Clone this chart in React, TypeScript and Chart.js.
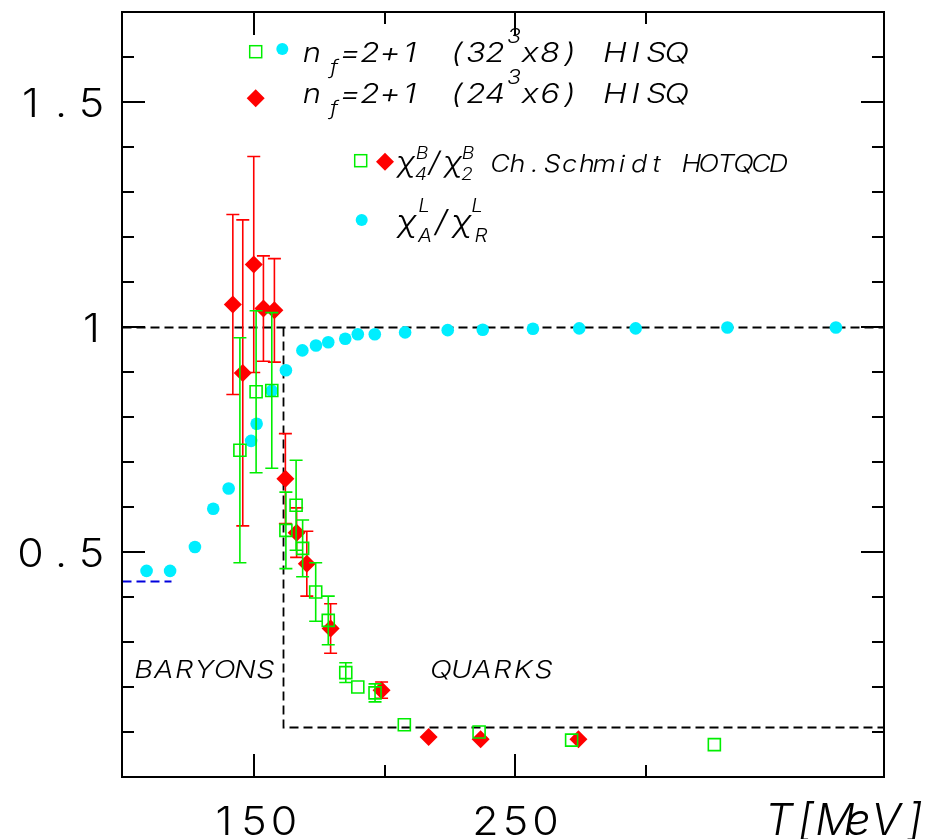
import React, { useEffect, useRef } from "react";
import { Chart, registerables } from "chart.js";

Chart.register(...registerables);

// ---------- data ----------
// chi_A^L / chi_R^L (cyan circles)
const cyanT = [108.9, 117.9, 127.4, 134.4, 140.3, 148.9, 151.0, 156.8, 162.2, 168.5, 173.7, 178.4, 184.9, 189.7, 196.2, 207.8, 224.1, 237.5, 256.7, 274.4, 296.0, 331.1, 372.6];
const cyanV = [0.458, 0.458, 0.511, 0.596, 0.641, 0.747, 0.785, 0.858, 0.904, 0.948, 0.959, 0.966, 0.974, 0.984, 0.984, 0.988, 0.993, 0.994, 0.996, 0.997, 0.997, 0.999, 0.999];

// chi4B/chi2B, nf=2+1 (24^3x6) HISQ (red diamonds)
const redT = [141.9, 145.7, 149.9, 153.6, 157.8, 162.0, 166.3, 170.2, 179.3, 198.8, 216.8, 236.7, 274.1];
const redV = [1.05, 0.898, 1.139, 1.041, 1.037, 0.663, 0.543, 0.474, 0.33, 0.193, 0.089, 0.084, 0.084];
const redErr = [0.2, 0.34, 0.24, 0.117, 0.115, 0.1, 0.055, 0.072, 0.055, 0.018, 0, 0, 0];

// chi4B/chi2B, nf=2+1 (32^3x8) HISQ (green open squares)
const greenT = [144.6, 150.8, 156.8, 162.2, 166.1, 168.6, 173.6, 178.4, 185.1, 189.7, 196.3, 207.5, 236.1, 271.5, 326.1];
const greenV = [0.726, 0.856, 0.859, 0.548, 0.604, 0.508, 0.411, 0.348, 0.232, 0.2, 0.187, 0.116, 0.1, 0.082, 0.072];
const greenErr = [0.25, 0.18, 0.173, 0.085, 0.1, 0.063, 0.065, 0.054, 0.022, 0, 0.02, 0, 0, 0, 0];

// reference lines
const UNITY = 1.0;
const T_C = 161.1;
const QUARK_LEVEL = 0.111;
const BARYON_LEVEL = 0.435;
const BARYON_LEVEL_END = 118.1;

// axes
const X_MIN = 99.5;
const X_MAX = 391;
const Y_MIN = 0;
const Y_MAX = 1.7;
const xTickValues = [150, 200, 250, 300];
const xTickLong = [150, 250];
const xTickLabels = ["150", "", "250", ""];
const yMinorStep = 0.1;
const yLabelValues = [0.5, 1.0, 1.5];
const yLabelTexts = ["0.5", "1", "1.5"];

// ---------- colours / fonts ----------
const CYAN = "#00EEFF";
const RED = "#FF0000";
const GREEN = "#00EE00";
const INK = "#000000";
const BLUE = "#0000DD";
const FACE = "Inter, Roboto, sans-serif";

function glyph(ctx: CanvasRenderingContext2D, ch: string, x: number, y: number, sx: number) {
  ctx.save();
  ctx.translate(x, y);
  ctx.scale(sx, 1);
  ctx.fillText(ch, 0, 0);
  ctx.restore();
}

function cells(ctx: CanvasRenderingContext2D, s: string, x0: number, y: number, pitch: number, font: string, sx = 1.2) {
  ctx.font = font;
  ctx.textAlign = "center";
  ctx.textBaseline = "alphabetic";
  for (let i = 0; i < s.length; i++) {
    if (s[i] !== " ") glyph(ctx, s[i], x0 + i * pitch, y, sx);
  }
}

function txt(ctx: CanvasRenderingContext2D, s: string, x: number, y: number, font: string, sx = 1.15) {
  ctx.font = font;
  ctx.textAlign = "center";
  ctx.textBaseline = "alphabetic";
  glyph(ctx, s, x, y, sx);
}

function square(ctx: CanvasRenderingContext2D, x: number, y: number, side: number) {
  ctx.save();
  ctx.strokeStyle = GREEN;
  ctx.lineWidth = 1.5;
  ctx.strokeRect(x - side / 2, y - side / 2, side, side);
  ctx.restore();
}
function diamond(ctx: CanvasRenderingContext2D, x: number, y: number, r: number) {
  ctx.save();
  ctx.fillStyle = RED;
  ctx.beginPath();
  ctx.moveTo(x, y - r);
  ctx.lineTo(x + r, y);
  ctx.lineTo(x, y + r);
  ctx.lineTo(x - r, y);
  ctx.closePath();
  ctx.fill();
  ctx.restore();
}
function dot(ctx: CanvasRenderingContext2D, x: number, y: number, r: number) {
  ctx.save();
  ctx.fillStyle = CYAN;
  ctx.beginPath();
  ctx.arc(x, y, r, 0, Math.PI * 2);
  ctx.fill();
  ctx.restore();
}

function errorBars(chart: any, T: number[], V: number[], E: number[], color: string) {
  const ctx = chart.ctx as CanvasRenderingContext2D;
  const xs = chart.scales.x;
  const ys = chart.scales.y;
  ctx.save();
  ctx.strokeStyle = color;
  ctx.lineWidth = 1.6;
  for (let i = 0; i < T.length; i++) {
    if (!E[i]) continue;
    const x = xs.getPixelForValue(T[i]);
    const y1 = ys.getPixelForValue(V[i] + E[i]);
    const y2 = ys.getPixelForValue(V[i] - E[i]);
    ctx.beginPath();
    ctx.moveTo(x, y1);
    ctx.lineTo(x, y2);
    ctx.moveTo(x - 6.5, y1);
    ctx.lineTo(x + 6.5, y1);
    ctx.moveTo(x - 6.5, y2);
    ctx.lineTo(x + 6.5, y2);
    ctx.stroke();
  }
  ctx.restore();
}

const customPlugin = {
  id: "custom",
  beforeDatasetsDraw(chart: any) {
    const ctx = chart.ctx as CanvasRenderingContext2D;
    const xs = chart.scales.x;
    const ys = chart.scales.y;
    const px = (t: number) => Math.round(xs.getPixelForValue(t)) + 0.5;
    const py = (v: number) => Math.round(ys.getPixelForValue(v)) + 0.5;
    ctx.save();
    ctx.lineWidth = 1.8;
    ctx.setLineDash([9, 5]);
    ctx.strokeStyle = "#000";
    ctx.beginPath();
    ctx.moveTo(px(X_MIN), py(UNITY));
    ctx.lineTo(px(X_MAX), py(UNITY));
    ctx.stroke();
    ctx.beginPath();
    ctx.moveTo(px(T_C), py(UNITY));
    ctx.lineTo(px(T_C), py(QUARK_LEVEL));
    ctx.lineTo(px(X_MAX), py(QUARK_LEVEL));
    ctx.stroke();
    ctx.strokeStyle = BLUE;
    ctx.beginPath();
    ctx.moveTo(px(X_MIN), py(BARYON_LEVEL));
    ctx.lineTo(px(BARYON_LEVEL_END), py(BARYON_LEVEL));
    ctx.stroke();
    ctx.restore();
  },
  beforeDatasetDraw(chart: any, args: any) {
    if (args.index === 1) errorBars(chart, redT, redV, redErr, RED);
    if (args.index === 0) errorBars(chart, greenT, greenV, greenErr, GREEN);
  },
  afterDraw(chart: any) {
    const ctx = chart.ctx as CanvasRenderingContext2D;
    const xs = chart.scales.x;
    const ys = chart.scales.y;
    const { left, right, top, bottom } = chart.chartArea;
    ctx.save();
    // frame
    ctx.strokeStyle = INK;
    ctx.lineWidth = 2;
    ctx.strokeRect(left, top, right - left, bottom - top);
    // y ticks
    ctx.beginPath();
    for (let k = 1; k * yMinorStep < Y_MAX - 1e-6; k++) {
      const v = Math.round(k * yMinorStep * 10) / 10;
      const y = Math.round(ys.getPixelForValue(v));
      const long = yLabelValues.some((w) => Math.abs(w - v) < 1e-6);
      const len = long ? 23 : 12;
      ctx.moveTo(left, y);
      ctx.lineTo(left + len, y);
      ctx.moveTo(right, y);
      ctx.lineTo(right - len, y);
    }
    // x ticks
    xTickValues.forEach((t) => {
      const x = Math.round(xs.getPixelForValue(t));
      const len = xTickLong.includes(t) ? 23 : 12;
      ctx.moveTo(x, bottom);
      ctx.lineTo(x, bottom - len);
      ctx.moveTo(x, top);
      ctx.lineTo(x, top + len);
    });
    ctx.stroke();

    // tick labels
    ctx.fillStyle = INK;
    const tickFont = `300 39px ${FACE}`;
    yLabelValues.forEach((v, i) => {
      const s = yLabelTexts[i];
      const y = ys.getPixelForValue(v) + 15;
      const pitch = 30.5;
      const x0 = left - 30.5 - (s.length - 1) * pitch;
      cells(ctx, s, x0, y, pitch, tickFont, 1.1);
    });
    xTickValues.forEach((t, i) => {
      const s = xTickLabels[i];
      if (!s) return;
      const x = xs.getPixelForValue(t);
      const pitch = 30;
      cells(ctx, s, x - ((s.length - 1) * pitch) / 2, 835, pitch, tickFont, 1.1);
    });
    // axis title
    const tFont = `300 italic 44px ${FACE}`;
    txt(ctx, "T", 779, 835, tFont, 1.0);
    txt(ctx, "[", 806, 835, tFont, 1.0);
    txt(ctx, "M", 835, 835, tFont, 1.0);
    txt(ctx, "e", 858, 835, tFont, 1.0);
    txt(ctx, "V", 886, 835, tFont, 1.0);
    txt(ctx, "]", 915, 835, tFont, 1.0);

    // region labels
    const regFont = `300 italic 24px ${FACE}`;
    cells(ctx, "BARYONS", 143.5, 678, 20.3, regFont);
    cells(ctx, "QUARKS", 441, 678, 20.5, regFont);

    // legend
    const lf = `300 italic 27px ${FACE}`;
    const sf = `300 italic 20px ${FACE}`;
    square(ctx, 255.7, 51.7, 12);
    dot(ctx, 282.3, 49, 6);
    diamond(ctx, 255.7, 98.3, 9);
    ctx.fillStyle = INK;
    const rows: [number, string, string][] = [
      [62, "32", "x8)"],
      [103, "24", "x6)"],
    ];
    rows.forEach(([b, n, tail]) => {
      txt(ctx, "n", 312, b, lf);
      txt(ctx, "f", 334, b + 12, sf);
      cells(ctx, "=2+1", 350, b, 20, lf);
      cells(ctx, "(" + n, 457, b, 19, lf);
      txt(ctx, "3", 514, b - 19, sf);
      cells(ctx, tail, 530, b, 20, lf);
      cells(ctx, "HISQ", 615, b, 20.6, lf);
    });

    square(ctx, 360.7, 160.7, 12);
    diamond(ctx, 385, 161.7, 9);
    dot(ctx, 361.7, 220, 6);
    ctx.fillStyle = INK;
    const chiF = `300 italic 28px ${FACE}`;
    const supF = `300 italic 17px ${FACE}`;
    txt(ctx, "χ", 406, 172, chiF);
    txt(ctx, "B", 422, 159, supF);
    txt(ctx, "4", 421, 180, supF);
    txt(ctx, "/", 434, 172, chiF);
    txt(ctx, "χ", 453, 172, chiF);
    txt(ctx, "B", 468, 159, supF);
    txt(ctx, "2", 467, 180, supF);
    cells(ctx, "Ch.Schmidt HOTQCD", 500, 172, 17.4, `300 italic 23.5px ${FACE}`, 1.15);

    const chi2F = `300 italic 30px ${FACE}`;
    const sup2F = `300 italic 18px ${FACE}`;
    txt(ctx, "χ", 407, 232, chi2F);
    txt(ctx, "L", 424, 212, sup2F);
    txt(ctx, "A", 425, 242, sup2F);
    txt(ctx, "/", 441, 232, chi2F);
    txt(ctx, "χ", 462, 232, chi2F);
    txt(ctx, "L", 477, 212, sup2F);
    txt(ctx, "R", 481, 242, sup2F);

    ctx.restore();
  },
};

export default function App() {
  const ref = useRef<HTMLCanvasElement>(null);
  useEffect(() => {
    const canvas = ref.current!;
    const chart = new Chart(canvas, {
      type: "scatter",
      data: {
        datasets: [
          {
            label: "32^3x8",
            data: greenT.map((t, i) => ({ x: t, y: greenV[i] })),
            pointStyle: "rect",
            pointRadius: 8.5,
            backgroundColor: "rgba(0,0,0,0)",
            borderColor: GREEN,
            borderWidth: 1.6,
          },
          {
            label: "24^3x6",
            data: redT.map((t, i) => ({ x: t, y: redV[i] })),
            pointStyle: "rectRot",
            pointRadius: 9,
            backgroundColor: RED,
            borderColor: RED,
            borderWidth: 0,
          },
          {
            label: "chiA/chiR",
            data: cyanT.map((t, i) => ({ x: t, y: cyanV[i] })),
            pointStyle: "circle",
            pointRadius: 6.3,
            backgroundColor: CYAN,
            borderColor: CYAN,
            borderWidth: 0,
          },
        ],
      },
      options: {
        animation: false,
        responsive: false,
        devicePixelRatio: 1,
        events: [],
        layout: { padding: { left: 122, top: 12, right: 42, bottom: 62 } },
        plugins: { legend: { display: false }, tooltip: { enabled: false } },
        scales: {
          x: { type: "linear", min: X_MIN, max: X_MAX, display: false },
          y: { type: "linear", min: Y_MIN, max: Y_MAX, display: false },
        },
      },
      plugins: [customPlugin],
    });
    return () => chart.destroy();
  }, []);
  return (
    <div style={{ position: "absolute", left: 0, top: 0, width: 926, height: 839, background: "#fff" }}>
      <canvas ref={ref} width={926} height={839} style={{ display: "block" }} />
    </div>
  );
}
